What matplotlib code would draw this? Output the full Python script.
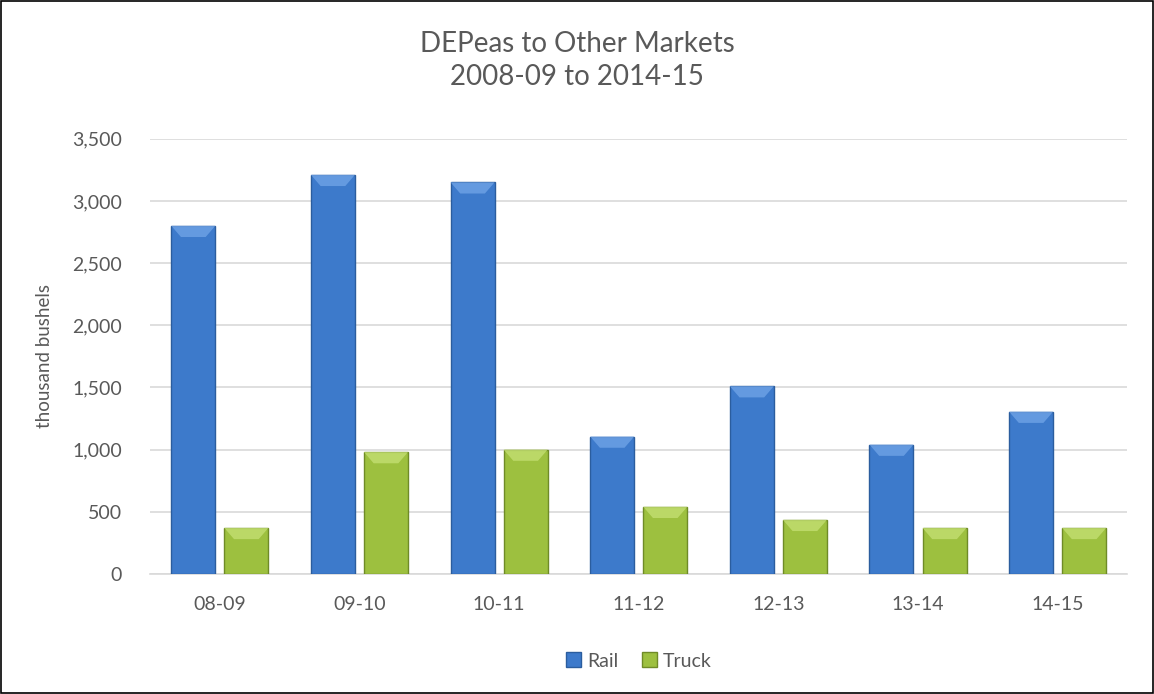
import matplotlib.pyplot as plt
import numpy as np
from matplotlib.patches import Rectangle, Polygon

plt.rcParams['font.family'] = ['Lato', 'DejaVu Sans']

# data (thousand bushels)
seasons = ['08-09', '09-10', '10-11', '11-12', '12-13', '13-14', '14-15']
rail = [2800, 3210, 3150, 1105, 1510, 1040, 1305]
truck = [370, 980, 1000, 540, 435, 370, 370]

grey = '#595959'
rail_col = '#3d7acb'
rail_edge = '#2b5d9e'
rail_cap = '#6fa3e6'
truck_col = '#9dc03f'
truck_edge = '#6f8b27'
truck_cap = '#c3df72'

fig = plt.figure(figsize=(11.54, 6.94), dpi=100)
ax = fig.add_axes([0.130, 0.173, 0.847, 0.627])

x = np.arange(len(seasons))
w = 0.315
off = 0.19
b1 = ax.bar(x - off, rail, w, color=rail_col, edgecolor=rail_edge, linewidth=1, label='Rail', zorder=3)
b2 = ax.bar(x + off, truck, w, color=truck_col, edgecolor=truck_edge, linewidth=1, label='Truck', zorder=3)

# bevel cap on top of each bar
for bars, cap in [(b1, rail_cap), (b2, truck_cap)]:
    for r in bars:
        x0, x1, top = r.get_x(), r.get_x() + r.get_width(), r.get_height()
        d = r.get_width() * 0.22
        ax.add_patch(Polygon([(x0, top), (x1, top), (x1 - d, top - 90), (x0 + d, top - 90)],
                             closed=True, facecolor=cap, edgecolor='none', zorder=4, alpha=0.8))

ax.set_xlim(-0.5, len(seasons) - 0.5)
ax.set_ylim(0, 3500)
ax.set_yticks(np.arange(0, 3501, 500))
ax.set_yticklabels([f'{v:,}' for v in range(0, 3501, 500)])
ax.set_xticks(x)
ax.set_xticklabels(seasons)
ax.tick_params(axis='both', length=0, labelsize=14, colors=grey)
ax.tick_params(axis='x', pad=16)
ax.tick_params(axis='y', pad=20)
ax.yaxis.grid(True, color='#d9d9d9', linewidth=1.2, zorder=0)
for s in ['top', 'right', 'left']:
    ax.spines[s].set_visible(False)
ax.spines['bottom'].set_color('#d9d9d9')
ax.spines['bottom'].set_linewidth(1.2)
ax.set_ylabel('thousand bushels', fontsize=13.5, color=grey, labelpad=14)

fig.text(0.5, 0.913, 'DEPeas to Other Markets\n2008-09 to 2014-15', ha='center', va='center',
         fontsize=20, color=grey, linespacing=1.3)

leg = ax.legend(loc='center', bbox_to_anchor=(0.5, -0.2), ncol=2, frameon=False,
                fontsize=14, handlelength=0.8, handleheight=0.8, handletextpad=0.3,
                columnspacing=1.2, labelcolor=grey)

fig.patches.append(Rectangle((0.001, 0.001), 0.998, 0.998, transform=fig.transFigure,
                             fill=False, edgecolor='black', linewidth=1.2))

fig.savefig('out.png', dpi=100)
